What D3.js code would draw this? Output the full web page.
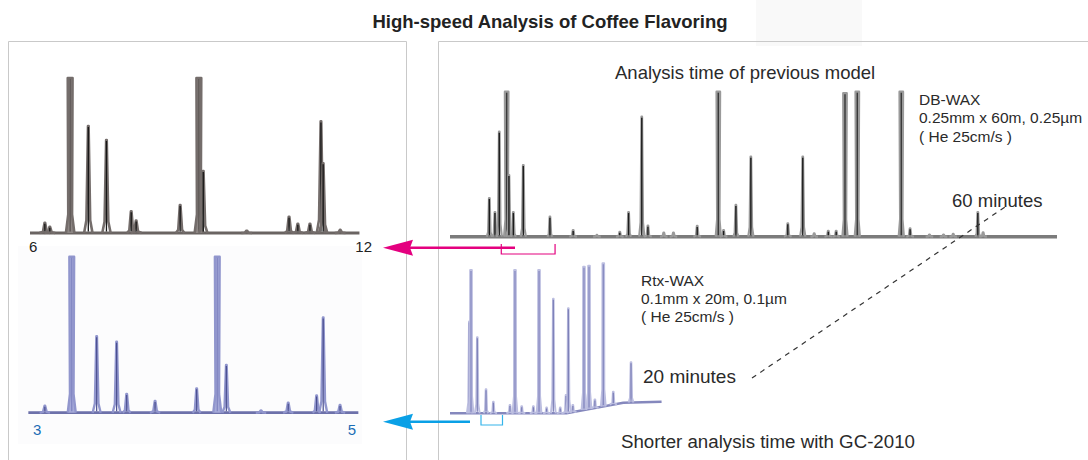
<!DOCTYPE html>
<html>
<head>
<meta charset="utf-8">
<script src="https://cdn.jsdelivr.net/npm/d3@7"></script>
<style>
  body { margin: 0; background: #fff; }
  text { font-family: "Liberation Sans", Arial, Helvetica, sans-serif; }
</style>
</head>
<body>
<div id="chart"></div>
<script>
// peaks: [retention time (min), relative height (clipped at 100)]
var LEFT_TOP_PEAKS = [
    [6.27, 6.6], [6.36, 4], [6.73, 100], [7.06, 69], [7.39, 60], [7.84, 14], [7.93, 8],
    [8.73, 18], [9.07, 100], [9.15, 40], [9.94, 1.5], [10.71, 10.5], [10.87, 6],
    [11.09, 6], [11.29, 72], [11.33, 45], [11.64, 2]
];
var LEFT_BOTTOM_PEAKS = [
    [3.09, 4.5], [3.253, 100], [3.404, 49], [3.525, 45.5], [3.586, 12], [3.758, 7.5],
    [4.01, 15.6], [4.135, 100], [4.19, 30.6], [4.4, 1.5], [4.565, 6.4], [4.737, 11],
    [4.777, 61], [4.879, 5]
];
var RIGHT_TOP_PEAKS = [
    [4.47, 26.7], [5.11, 17], [5.6, 72.4], [6.44, 100], [6.7, 42.5], [7.2, 17], [8.33, 49.4],
    [11.36, 13.8], [14.0, 4.6], [16.7, 1.2], [19.3, 3.4], [20.3, 17], [21.8, 82.8],
    [22.5, 7.6], [24.3, 2.8], [25.4, 2.8], [28.1, 7.4], [30.5, 100], [31.1, 4.6],
    [32.5, 21.9], [34.2, 55.2], [38.4, 9.2], [40.1, 55.2], [41.4, 2.3], [43.0, 4.1],
    [43.9, 4.1], [44.9, 99], [46.3, 100], [51.3, 100], [52.3, 5.8], [54.5, 1.5],
    [56.1, 1.5], [57.2, 2], [60.0, 17], [60.6, 3]
];
var RIGHT_BOTTOM_PEAKS = [
    [1.84, 64], [2.0, 100], [2.6, 53], [3.43, 16.7], [4.13, 8], [5.71, 5.8], [6.19, 100],
    [6.83, 5], [7.94, 5], [8.48, 100], [9.2, 4], [9.84, 80], [10.5, 4], [11.05, 12.8],
    [11.27, 73], [11.7, 5], [12.76, 100], [13.24, 100], [13.8, 6], [14.6, 100],
    [15.55, 9], [17.24, 28]
];
// baseline drift of the fast run: [time, level]
var RIGHT_BOTTOM_BASE = [[0, 0], [11.1, 0], [16.5, 7.4], [20.15, 8.1]];

var LEFT_TOP_RANGE = [6, 12];
var LEFT_BOTTOM_RANGE = [3, 5];
var RIGHT_TOP_RANGE = [0, 69];
var RIGHT_BOTTOM_RANGE = [0, 20];

var WIDTH = 1088, HEIGHT = 460;

var svg = d3.select('#chart').append('svg')
    .attr('width', WIDTH)
    .attr('height', HEIGHT);

// faint watermark behind the title
svg.append('rect')
    .attr('x', 756).attr('y', 0).attr('width', 106).attr('height', 46)
    .style('fill', '#f1f1f1').style('opacity', 0.45);

// panel frames
svg.append('path')
    .attr('d', 'M8.5,460 V41.5 H406.5 V460')
    .style('fill', 'none').style('stroke', '#c9c9c9');
svg.append('path')
    .attr('d', 'M438.5,460 V41.5 H1088')
    .style('fill', 'none').style('stroke', '#c9c9c9');
svg.append('rect')
    .attr('x', 18).attr('y', 246).attr('width', 344).attr('height', 198)
    .style('fill', '#fcfcfd');

svg.append('text')
    .attr('x', 550).attr('y', 28)
    .attr('text-anchor', 'middle')
    .style('font-size', '18.5px').style('font-weight', 'bold').style('fill', '#222')
    .text('High-speed Analysis of Coffee Flavoring');

// Scales
var ltX = d3.scaleLinear().domain(LEFT_TOP_RANGE).range([30, 360]);
var ltY = d3.scaleLinear().domain([0, 100]).range([233, 78]);
var lbX = d3.scaleLinear().domain(LEFT_BOTTOM_RANGE).range([30, 360]);
var lbY = d3.scaleLinear().domain([0, 100]).range([412.7, 256.7]);
var rtX = d3.scaleLinear().domain(RIGHT_TOP_RANGE).range([450, 1057]);
var rtY = d3.scaleLinear().domain([0, 100]).range([236.7, 91.7]);
var rbX = d3.scaleLinear().domain(RIGHT_BOTTOM_RANGE).range([450, 660]);
var rbY = d3.scaleLinear().domain([0, 100]).range([413.3, 270]);
var rbDrift = d3.scaleLinear()
    .domain(RIGHT_BOTTOM_BASE.map(function(d) { return d[0]; }))
    .range(RIGHT_BOTTOM_BASE.map(function(d) { return d[1]; }))
    .clamp(true);

// one narrow peak, in pixels
function peakShape(x, yb, yt, st, clipped) {
    var h = yb - yt;
    var hw = st.hw, tw = clipped ? st.tw : 0.3;
    if (h < 14) hw = st.hw + 1.2;
    var pts = [[x - hw, yb], [x - st.nw, yb - h * 0.12], [x - tw, yt],
               [x + tw, yt], [x + st.nw, yb - h * 0.12], [x + hw, yb]];
    return d3.line()(pts);
}

function drawTrace(g, peaks, baseline, x, y, drift, st) {
    g.append('path')
        .datum(baseline)
        .attr('d', d3.line()
            .x(function(d) { return x(d[0]); })
            .y(function(d) { return y(d[1]); }))
        .style('fill', 'none')
        .style('stroke', st.base)
        .style('stroke-width', st.baseW);

    var pk = g.selectAll('g.peak')
        .data(peaks)
        .enter()
        .append('g')
            .attr('class', 'peak');

    pk.append('path')
        .attr('d', function(d) {
            var b = drift(d[0]);
            return peakShape(x(d[0]), y(b), y(b + d[1]), st, d[1] >= 99);
        })
        .style('fill', function(d) { return d[1] >= 99 ? st.fill : 'none'; })
        .style('stroke', st.outer)
        .style('stroke-width', st.outerW)
        .style('stroke-linejoin', 'round');

    pk.filter(function(d) { return d[1] > 3; })
        .append('line')
            .attr('x1', function(d) { return x(d[0]); })
            .attr('x2', function(d) { return x(d[0]); })
            .attr('y1', function(d) { return y(drift(d[0])) - 1.5; })
            .attr('y2', function(d) { return y(drift(d[0]) + d[1]) + 1; })
            .style('stroke', function(d) { return d[1] >= 99 ? st.clipCore : st.core; })
            .style('stroke-width', st.coreW);
}

function flat() { return 0; }

drawTrace(svg.append('g'), LEFT_TOP_PEAKS, [[6, 0], [11.99, 0]], ltX, ltY, flat, {
    base: '#6a6462', baseW: 3, outer: '#746d6b', outerW: 2.6, fill: '#8d8684',
    core: '#151515', clipCore: '#5a5452', coreW: 1.3, hw: 4.2, nw: 1.9, tw: 2.4
});
drawTrace(svg.append('g'), LEFT_BOTTOM_PEAKS, [[2.99, 0], [4.99, 0]], lbX, lbY, flat, {
    base: '#6d71aa', baseW: 2.8, outer: '#9196cd', outerW: 2.4, fill: '#a6aad9',
    core: '#4a4e8f', clipCore: '#7f84c0', coreW: 1.2, hw: 4, nw: 1.8, tw: 2.4
});
drawTrace(svg.append('g'), RIGHT_TOP_PEAKS, [[0, 0], [69, 0]], rtX, rtY, flat, {
    base: '#7b7b7b', baseW: 3.6, outer: '#9a9a9a', outerW: 2.2, fill: '#8f8f8f',
    core: '#1c1c1c', clipCore: '#3a3a3a', coreW: 1.4, hw: 2.6, nw: 1.2, tw: 1.8
});
drawTrace(svg.append('g'), RIGHT_BOTTOM_PEAKS, RIGHT_BOTTOM_BASE, rbX, rbY, rbDrift, {
    base: '#8588bd', baseW: 2.6, outer: '#bcbee0', outerW: 2, fill: '#b0b2da',
    core: '#7a7db6', clipCore: '#8487bf', coreW: 1.2, hw: 2.4, nw: 1.0, tw: 0.8
});

// range labels of the insets
var labels = svg.append('g').style('font-size', '15px');
labels.append('text').attr('x', ltX(6) - 1).attr('y', 252).style('fill', '#222').text('6');
labels.append('text').attr('x', 372).attr('y', 252).attr('text-anchor', 'end').style('fill', '#222').text('12');
labels.append('text').attr('x', lbX(3) + 3).attr('y', 435).style('fill', '#1b6db5').text('3');
labels.append('text').attr('x', 356).attr('y', 435).attr('text-anchor', 'end').style('fill', '#1b6db5').text('5');

// brackets + arrows pointing to the zoomed insets
function bracket(x0, x1, y0, y1, color) {
    svg.append('path')
        .attr('d', 'M' + x0 + ',' + y0 + ' V' + y1 + ' H' + x1 + ' V' + y0)
        .style('fill', 'none').style('stroke', color).style('stroke-width', 1.2);
}
function arrow(xs, y, color) {
    svg.append('line')
        .attr('x1', xs).attr('x2', 408).attr('y1', y).attr('y2', y)
        .style('stroke', color).style('stroke-width', 2.6);
    svg.append('path')
        .attr('d', 'M383,' + y + ' L413,' + (y - 8) + ' L410,' + y + ' L413,' + (y + 8) + ' Z')
        .style('fill', color);
}
bracket(rtX(LEFT_TOP_RANGE[0]) - 1.5, rtX(LEFT_TOP_RANGE[1]) - 0.5, 244, 254, '#e4007f');
arrow(515, 247.7, '#e4007f');
bracket(rbX(LEFT_BOTTOM_RANGE[0]) - 0.5, rbX(LEFT_BOTTOM_RANGE[1]), 415, 425, '#35b4ea');
arrow(470, 421.7, '#0aa0e6');

// captions
var cap = svg.append('g').style('fill', '#2a2a2a');
cap.append('text').attr('x', 615).attr('y', 79).style('font-size', '18.5px')
    .text('Analysis time of previous model');
var db = cap.append('text').style('font-size', '15.5px');
db.append('tspan').attr('x', 919).attr('y', 105).text('DB-WAX');
db.append('tspan').attr('x', 919).attr('y', 123).text('0.25mm x 60m, 0.25µm');
db.append('tspan').attr('x', 919).attr('y', 141.5).text('( He 25cm/s )');
cap.append('text').attr('x', 952).attr('y', 206.5).style('font-size', '18.5px')
    .text('60 minutes');
var rtx = cap.append('text').style('font-size', '15.5px');
rtx.append('tspan').attr('x', 641).attr('y', 286).text('Rtx-WAX');
rtx.append('tspan').attr('x', 641).attr('y', 304).text('0.1mm x 20m, 0.1µm');
rtx.append('tspan').attr('x', 641).attr('y', 322).text('( He 25cm/s )');
cap.append('text').attr('x', 643).attr('y', 383).style('font-size', '19px')
    .text('20 minutes');
cap.append('text').attr('x', 621).attr('y', 448).style('font-size', '18.7px')
    .text('Shorter analysis time with GC-2010');

// dashed link between the two run times
svg.append('line')
    .attr('x1', 752).attr('y1', 378).attr('x2', 1005).attr('y2', 207)
    .style('stroke', '#333').style('stroke-width', 1.2)
    .style('stroke-dasharray', '5,5');
</script>
</body>
</html>
